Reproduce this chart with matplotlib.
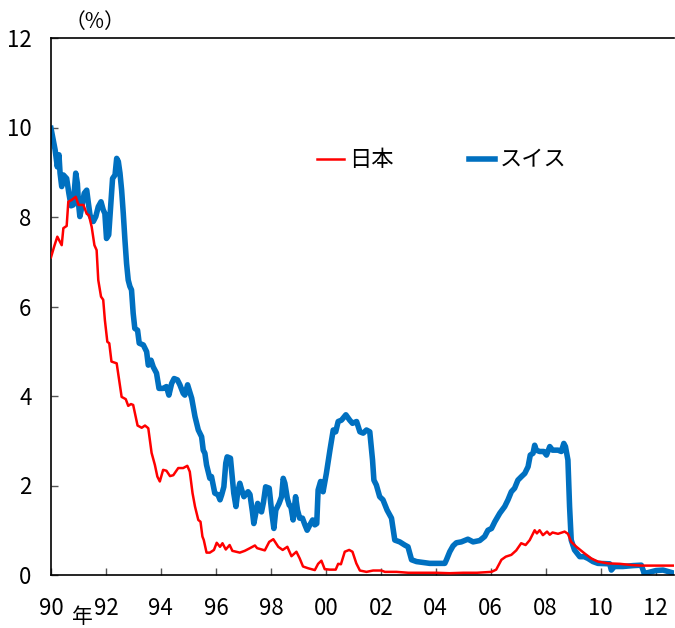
import matplotlib
matplotlib.use('Agg')
import matplotlib.pyplot as plt

plt.rcParams['font.family'] = ['Noto Sans CJK JP', 'DejaVu Sans']

# 日本 (year, %)
jp_year = [1990.00, 1990.12, 1990.23, 1990.39, 1990.45, 1990.57, 1990.63, 1990.75, 1990.90,
           1991.00, 1991.18, 1991.30, 1991.38, 1991.48, 1991.58, 1991.66, 1991.72, 1991.82,
           1991.90, 1991.96, 1992.05, 1992.12, 1992.20, 1992.39, 1992.57, 1992.72, 1992.81,
           1992.91, 1992.99, 1993.15, 1993.30, 1993.42, 1993.54, 1993.66, 1993.78, 1993.87,
           1993.96, 1994.08, 1994.20, 1994.33, 1994.45, 1994.63, 1994.81, 1994.96, 1995.05,
           1995.15, 1995.24, 1995.36, 1995.44, 1995.51, 1995.56, 1995.66, 1995.78, 1995.93,
           1996.03, 1996.15, 1996.24, 1996.36, 1996.50, 1996.60, 1996.87, 1997.05, 1997.24,
           1997.42, 1997.50, 1997.78, 1997.94, 1998.09, 1998.27, 1998.43, 1998.60, 1998.75,
           1998.93, 1999.05, 1999.17, 1999.36, 1999.60, 1999.72, 1999.84, 1999.96, 2000.15,
           2000.36, 2000.45, 2000.55, 2000.69, 2000.85, 2000.97, 2001.11, 2001.24, 2001.48,
           2001.72, 2002.02, 2002.15, 2002.57, 2003.00, 2003.50, 2004.00, 2004.50, 2005.00,
           2005.50, 2006.03, 2006.20, 2006.39, 2006.55, 2006.75, 2006.93, 2007.11, 2007.27,
           2007.42, 2007.60, 2007.68, 2007.78, 2007.90, 2008.05, 2008.15, 2008.25, 2008.45,
           2008.69, 2008.81, 2008.93, 2009.12, 2009.42, 2009.66, 2009.90, 2010.27, 2010.69,
           2011.18, 2011.50, 2012.00, 2012.67]
jp_rate = [7.10, 7.35, 7.56, 7.37, 7.75, 7.80, 8.34, 8.38, 8.45,
           8.27, 8.27, 8.07, 8.04, 7.78, 7.37, 7.26, 6.59, 6.22,
           6.15, 5.70, 5.21, 5.18, 4.77, 4.73, 3.98, 3.93, 3.78,
           3.82, 3.80, 3.34, 3.29, 3.34, 3.28, 2.73, 2.46, 2.20,
           2.09, 2.35, 2.33, 2.21, 2.23, 2.39, 2.39, 2.44, 2.31,
           1.83, 1.53, 1.23, 1.19, 0.86, 0.78, 0.50, 0.50, 0.56,
           0.72, 0.63, 0.71, 0.57, 0.67, 0.54, 0.50, 0.54, 0.60,
           0.66, 0.60, 0.55, 0.74, 0.80, 0.63, 0.56, 0.63, 0.42,
           0.52, 0.37, 0.19, 0.15, 0.11, 0.25, 0.32, 0.13, 0.12,
           0.12, 0.25, 0.24, 0.52, 0.56, 0.52, 0.26, 0.10, 0.07,
           0.10, 0.10, 0.07, 0.07, 0.05, 0.05, 0.05, 0.04, 0.05,
           0.05, 0.07, 0.12, 0.34, 0.41, 0.45, 0.55, 0.71, 0.67,
           0.78, 1.00, 0.93, 1.00, 0.89, 0.97, 0.90, 0.95, 0.92,
           0.97, 0.92, 0.74, 0.63, 0.48, 0.37, 0.30, 0.26, 0.25,
           0.22, 0.21, 0.21, 0.21]

# スイス (year, %)
ch_year = [1990.00, 1990.15, 1990.23, 1990.29, 1990.33, 1990.39, 1990.45, 1990.57, 1990.65,
           1990.73, 1990.81, 1990.90, 1990.96, 1991.00, 1991.05, 1991.11, 1991.21, 1991.30,
           1991.36, 1991.42, 1991.54, 1991.63, 1991.72, 1991.82, 1991.90, 1991.96, 1992.02,
           1992.10, 1992.18, 1992.24, 1992.33, 1992.39, 1992.45, 1992.51, 1992.57, 1992.63,
           1992.69, 1992.75, 1992.81, 1992.87, 1992.93, 1992.99, 1993.05, 1993.15, 1993.21,
           1993.36, 1993.48, 1993.54, 1993.64, 1993.72, 1993.84, 1993.93, 1994.08, 1994.20,
           1994.29, 1994.39, 1994.48, 1994.60, 1994.69, 1994.81, 1994.87, 1994.97, 1995.03,
           1995.12, 1995.24, 1995.36, 1995.48, 1995.54, 1995.60, 1995.66, 1995.78, 1995.84,
           1995.90, 1995.96, 1996.08, 1996.15, 1996.21, 1996.29, 1996.36, 1996.41, 1996.53,
           1996.60, 1996.65, 1996.73, 1996.79, 1996.87, 1996.94, 1997.02, 1997.17, 1997.24,
           1997.33, 1997.38, 1997.45, 1997.52, 1997.60, 1997.66, 1997.73, 1997.81, 1997.94,
           1998.03, 1998.11, 1998.18, 1998.30, 1998.39, 1998.45, 1998.51, 1998.60, 1998.67,
           1998.73, 1998.81, 1998.90, 1998.97, 1999.05, 1999.15, 1999.24, 1999.32, 1999.42,
           1999.52, 1999.60, 1999.67, 1999.72, 1999.81, 1999.90, 2000.02, 2000.15, 2000.27,
           2000.36, 2000.45, 2000.57, 2000.73, 2000.87, 2000.97, 2001.12, 2001.24, 2001.36,
           2001.48, 2001.60, 2001.70, 2001.75, 2001.84, 2001.96, 2002.08, 2002.23, 2002.39,
           2002.51, 2002.69, 2002.87, 2002.99, 2003.12, 2003.30, 2003.54, 2003.78, 2004.00,
           2004.33, 2004.39, 2004.51, 2004.63, 2004.75, 2004.93, 2005.17, 2005.36, 2005.60,
           2005.78, 2005.90, 2006.03, 2006.15, 2006.33, 2006.51, 2006.63, 2006.75, 2006.87,
           2006.99, 2007.12, 2007.24, 2007.36, 2007.44, 2007.54, 2007.60, 2007.66, 2007.78,
           2007.93, 2008.03, 2008.15, 2008.25, 2008.45, 2008.57, 2008.66, 2008.72, 2008.81,
           2008.87, 2008.93, 2009.05, 2009.24, 2009.40, 2009.54, 2009.72, 2009.90, 2010.33,
           2010.39, 2010.50, 2010.81, 2011.18, 2011.48, 2011.55, 2011.60, 2011.70, 2012.02,
           2012.27, 2012.50, 2012.67]
ch_rate = [9.98, 9.50, 9.12, 9.39, 8.98, 8.68, 8.94, 8.86, 8.53,
           8.25, 8.27, 8.98, 8.75, 8.31, 8.01, 8.19, 8.53, 8.60,
           8.31, 8.04, 7.90, 8.01, 8.23, 8.34, 8.16, 8.08, 7.52,
           7.60, 8.31, 8.86, 8.94, 9.31, 9.24, 8.98, 8.60, 8.08,
           7.49, 6.96, 6.59, 6.45, 6.37, 5.85, 5.51, 5.47, 5.18,
           5.14, 4.99, 4.69, 4.80, 4.65, 4.51, 4.17, 4.17, 4.21,
           4.02, 4.28, 4.39, 4.36, 4.25, 4.06, 4.02, 4.25, 4.13,
           3.95, 3.54, 3.24, 3.09, 2.79, 2.72, 2.46, 2.16, 2.20,
           2.01, 1.83, 1.79, 1.68, 1.79, 1.97, 2.50, 2.64, 2.61,
           2.16, 1.83, 1.53, 1.83, 2.05, 1.90, 1.75, 1.86, 1.80,
           1.41, 1.15, 1.38, 1.60, 1.45, 1.41, 1.62, 1.97, 1.94,
           1.41, 1.04, 1.45, 1.60, 1.75, 2.16, 2.05, 1.71, 1.56,
           1.53, 1.23, 1.75, 1.45, 1.27, 1.27, 1.12, 1.00, 1.12,
           1.23, 1.12, 1.15, 1.90, 2.09, 1.86, 2.27, 2.79, 3.24,
           3.20, 3.43, 3.46, 3.58, 3.46, 3.39, 3.43, 3.20, 3.17,
           3.24, 3.20, 2.57, 2.12, 2.01, 1.75, 1.68, 1.45, 1.27,
           0.78, 0.74, 0.67, 0.63, 0.34, 0.30, 0.28, 0.26, 0.26,
           0.26, 0.34, 0.52, 0.65, 0.72, 0.74, 0.80, 0.74, 0.77,
           0.86, 1.00, 1.04, 1.19, 1.38, 1.53, 1.68, 1.86, 1.94,
           2.12, 2.20, 2.27, 2.42, 2.68, 2.72, 2.90, 2.79, 2.76,
           2.76, 2.68, 2.87, 2.79, 2.79, 2.76, 2.94, 2.87, 2.57,
           1.53, 0.78, 0.56, 0.41, 0.41, 0.37, 0.30, 0.26, 0.25,
           0.11, 0.19, 0.19, 0.21, 0.22, 0.10, 0.00, 0.05, 0.10,
           0.11, 0.07, 0.04]

x_ticks = list(range(1990, 2013, 2))
x_labels = ['90', '92', '94', '96', '98', '00', '02', '04', '06', '08', '10', '12']
y_ticks = [0, 2, 4, 6, 8, 10, 12]

fig = plt.figure(figsize=(6.75, 6.28), dpi=100)
ax = fig.add_axes([51 / 675, 1 - 575 / 628, 623 / 675, 537 / 628])

ax.plot(ch_year, ch_rate, color='#0070C0', lw=4.0, label='スイス', zorder=2,
        solid_joinstyle='round')
ax.plot(jp_year, jp_rate, color='#FF0000', lw=1.8, label='日本', zorder=3)

ax.set_xlim(1990, 2012.67)
ax.set_ylim(0, 12)
ax.set_xticks(x_ticks)
ax.set_xticklabels(x_labels)
ax.set_yticks(y_ticks)
ax.tick_params(direction='in', length=5, width=1, labelsize=16, color='#555555')
ax.tick_params(axis='x', pad=16)
ax.tick_params(axis='y', pad=14)
for s in ax.spines.values():
    s.set_linewidth(1.2)
ax.spines['right'].set_visible(False)

h, l = ax.get_legend_handles_labels()
ax.legend([h[1], h[0]], [l[1], l[0]], ncol=2, frameon=False, fontsize=16,
          handlelength=1.2, handletextpad=0.2, columnspacing=3.4,
          loc='center', bbox_to_anchor=(442 / 675, 1 - 160 / 628),
          bbox_transform=fig.transFigure)

fig.text(95 / 675, 1 - 22 / 628, '（%）', fontsize=15, ha='center', va='center')
fig.text(82 / 675, 1 - 617 / 628, '年', fontsize=15, ha='center', va='center')

fig.savefig('out.png', dpi=100)
